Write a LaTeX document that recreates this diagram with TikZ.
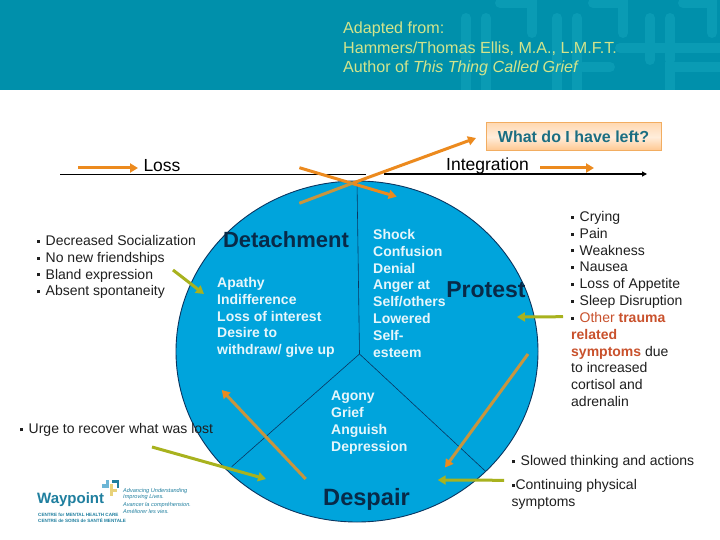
\documentclass[tikz,border=0pt]{standalone}
\usepackage{fontspec}
\setmainfont{Liberation Sans}
\usetikzlibrary{arrows.meta,shapes.geometric}
\definecolor{band}{HTML}{0090AB}
\definecolor{bandmark}{HTML}{0A9BB4}
\definecolor{headtext}{HTML}{D2E48C}
\definecolor{disc}{HTML}{00A4DC}
\definecolor{discedge}{HTML}{0A3560}
\definecolor{softwhite}{HTML}{E6F6FB}
\definecolor{darkname}{HTML}{082A48}
\definecolor{arroworange}{HTML}{EC8A1E}
\definecolor{arrowtan}{HTML}{C8953E}
\definecolor{arrowolive}{HTML}{A8B21E}
\definecolor{boxteal}{HTML}{1B6E82}
\definecolor{traumared}{HTML}{C9512C}
\definecolor{logoteal}{HTML}{1F7F9F}
\definecolor{logoyellow}{HTML}{E8D27A}
\definecolor{logoblue}{HTML}{6DB6D6}
\newcommand{\bltmark}{\rule[2.6pt]{3pt}{3pt}}
\newcommand{\blt}{\bltmark\hspace{5.5pt}}
\tikzset{
  bandbar/.style={line width=10pt,color=bandmark,line cap=round},
  body/.style={inner sep=0pt,anchor=north west,align=left,text=black!88,font=\fontsize{14}{16.85}\selectfont,execute at begin node=\strut},
  inlist/.style={body,text=softwhite,font=\fontsize{14}{16.85}\selectfont\bfseries},
  stage/.style={inner sep=0pt,anchor=center,text=darkname,font=\fontsize{23}{25}\selectfont\bfseries},
  axlabel/.style={inner sep=0pt,anchor=center,text=black,font=\fontsize{17.5}{20}\selectfont},
  orangearrow/.style={line width=3pt,color=arroworange,-{Triangle[length=8pt,width=9pt]}},
  tanarrow/.style={line width=3pt,color=arrowtan,-{Triangle[length=8pt,width=9pt,fill=arroworange,color=arroworange]}},
  olivearrow/.style={line width=3pt,color=arrowolive,-{Triangle[length=8pt,width=9pt]}},
  divider/.style={line width=0.6pt,color=discedge},
  tiny/.style={inner sep=0pt,anchor=west,text=logoteal}
}
\begin{document}
\begin{tikzpicture}[x=1pt,y=-1pt]
\useasboundingbox (0,0) rectangle (720,540);
\fill[white] (0,0) rectangle (720,540);
% header band
\fill[band] (0,0) rectangle (720,90);
\begin{scope}
\clip (0,0) rectangle (720,90);
\draw[bandbar] (466,18) -- (466,100);
\draw[bandbar] (486,18) -- (486,100);
\draw[bandbar] (557,18) -- (557,100);
\draw[bandbar] (577,18) -- (577,100);
\draw[bandbar] (650,18) -- (650,60);
\draw[bandbar] (670,18) -- (670,60);
\draw[bandbar] (500,3) -- (532,3) -- (532,33);
\draw[bandbar] (593,3) -- (623,3) -- (623,33);
\draw[bandbar] (683,3) -- (712,3) -- (712,33);
\draw[bandbar] (620,48) -- (730,48);
\draw[bandbar] (583,67) -- (610,67);
\draw[bandbar] (670,100) -- (670,67) -- (730,67);
\end{scope}
\node[inner sep=0pt,anchor=north west,align=left,text=headtext,font=\fontsize{16.1}{19.5}\selectfont,execute at begin node=\strut] (credit) at (343,22)
  {Adapted from:\\Hammers/Thomas Ellis, M.A., L.M.F.T.\\Author of \textit{This Thing Called Grief}};
% disc
\node[draw=discedge,line width=0.9pt,fill=disc,ellipse,minimum width=362pt,minimum height=341pt,inner sep=0pt] (disc) at (357,351.5) {};
% axis
\coordinate (axA) at (60,174);
\coordinate (axB) at (366,174);
\coordinate (axC) at (384,174);
\coordinate (axD) at (647,174);
\draw[line width=0.7pt,color=black] (axA) -- (axB);
\draw[line width=1.2pt,color=black,-{Triangle[length=5pt,width=5pt]}] (axC) -- (axD);
% dividers
\coordinate (hub) at (359.5,354);
\coordinate (divTop) at (357,181);
\coordinate (divLeft) at (231.7,466.7);
\coordinate (divRight) at (486,471.7);
\draw[divider] (divTop) -- (hub);
\draw[divider] (hub) -- (divLeft);
\draw[divider] (hub) -- (divRight);
% labels on axis
\node[axlabel] (loss) at (162,166) {Loss};
\node[axlabel] (integ) at (487.5,166) {Integration};
% question box
\node[draw=arroworange!70!white,line width=1pt,top color=orange!30!white,bottom color=orange!45!white,middle color=orange!14!white,minimum width=175pt,minimum height=28pt,inner sep=0pt,text=boxteal,font=\fontsize{16}{18}\selectfont\bfseries] (ask) at (573.5,137) {What do I have left?};
% text inside disc
\node[stage,font=\fontsize{22}{24}\selectfont\bfseries] (detach) at (286,240) {Detachment};
\node[stage] (protest) at (486,290) {Protest};
\node[stage,font=\fontsize{23.6}{25}\selectfont\bfseries] (despair) at (366.5,499.5) {Despair};
\node[inlist] (inA) at (217,277) {Apathy\\Indifference\\Loss of interest\\Desire to\\withdraw/ give up};
\node[inlist] (inB) at (373,229) {Shock\\Confusion\\Denial\\Anger at\\Self/others\\Lowered\\Self-\\esteem};
\node[inlist] (inC) at (331,391) {Agony\\Grief\\Anguish\\Depression};
% text outside disc
\node[body] (lsA) at (37,235) {\blt Decreased Socialization\\\blt No new friendships\\\blt Bland expression\\\blt Absent spontaneity};
\node[body] (lsB) at (20,422) {\blt Urge to recover what was lost};
\node[body] (lsC) at (571,211) {\blt Crying\\\blt Pain\\\blt Weakness\\\blt Nausea\\\blt Loss of Appetite\\\blt Sleep Disruption\\\blt \textcolor{traumared}{Other \textbf{trauma}}\\\textcolor{traumared}{\textbf{related}}\\\textcolor{traumared}{\textbf{symptoms}} due\\to increased\\cortisol and\\adrenalin};
\node[body] (lsD) at (512,454) {\blt Slowed thinking and actions};
\node[body] (lsE) at (511.5,479) {\bltmark\hspace{0.8pt}Continuing physical\\symptoms};
% arrows
\coordinate (a1) at (78,168); \coordinate (a2) at (138,168);
\coordinate (b1) at (540,168); \coordinate (b2) at (594,168);
\coordinate (c1) at (299.4,167.7); \coordinate (c2) at (396.7,196.7);
\coordinate (d1) at (299.3,203.3); \coordinate (dm) at (353,183); \coordinate (d2) at (476,138);
\coordinate (e1) at (173,270); \coordinate (e2) at (204,294);
\coordinate (f1) at (152,447); \coordinate (f2) at (266,479);
\coordinate (g1) at (305.7,479); \coordinate (g2) at (221.7,390);
\coordinate (h1) at (528,354); \coordinate (h2) at (445,467.5);
\coordinate (i1) at (563,316.7); \coordinate (i2) at (517,317);
\coordinate (j1) at (504,480.3); \coordinate (j2) at (437.7,480);
\draw[orangearrow] (a1) -- (a2);
\draw[orangearrow] (b1) -- (b2);
\draw[orangearrow] (c1) -- (c2);
\draw[line width=3pt,color=arrowtan] (d1) -- (dm);
\draw[orangearrow] (dm) -- (d2);
\draw[olivearrow] (e1) -- (e2);
\draw[olivearrow] (f1) -- (f2);
\draw[tanarrow] (g1) -- (g2);
\draw[tanarrow] (h1) -- (h2);
\draw[olivearrow] (i1) -- (i2);
\draw[olivearrow] (j1) -- (j2);
% logo
\node[inner sep=0pt,anchor=base west,text=logoteal,font=\fontsize{15}{17}\selectfont\bfseries] (wp) at (37,503) {Waypoint};
\fill[logoblue] (102,484) rectangle (108,487.5);
\fill[logoblue] (106,480) rectangle (108.5,487.5);
\fill[logoteal] (112,480) rectangle (119,482.5);
\fill[logoteal] (116.5,480) rectangle (119,488);
\fill[logoyellow] (110,484) rectangle (112.5,496);
\fill[logoyellow] (110,489) rectangle (117,491.5);
\node[tiny,font=\fontsize{4.6}{6}\selectfont\bfseries] (lg1) at (38,515) {CENTRE for MENTAL HEALTH CARE};
\node[tiny,font=\fontsize{4.6}{6}\selectfont\bfseries] (lg2) at (38,520) {CENTRE de SOINS de SANTÉ MENTALE};
\node[tiny,font=\fontsize{5.6}{6}\selectfont\itshape] (lg3) at (123,491.5) {Advancing Understanding};
\node[tiny,font=\fontsize{5.6}{6}\selectfont\itshape] (lg4) at (123,497) {Improving Lives.};
\node[tiny,font=\fontsize{5.6}{6}\selectfont\itshape] (lg5) at (123,505) {Avancer la compréhension.};
\node[tiny,font=\fontsize{5.6}{6}\selectfont\itshape] (lg6) at (123,511) {Améliorer les vies.};
\end{tikzpicture}
\end{document}
